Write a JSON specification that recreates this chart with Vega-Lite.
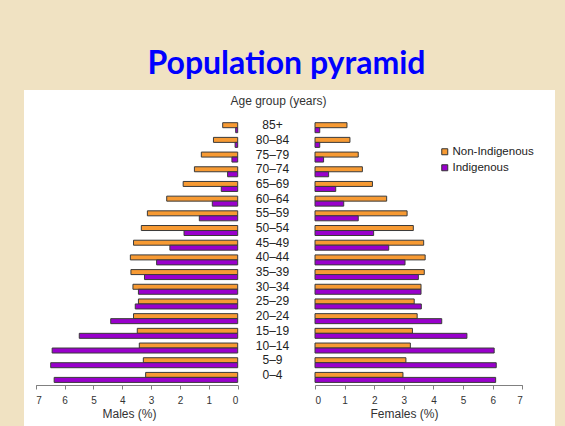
{
  "$schema": "https://vega.github.io/schema/vega-lite/v6.json",
  "autosize": {"type": "none"},
  "width": 531,
  "height": 336,
  "padding": {"left": 24, "top": 90, "right": 10, "bottom": 0},
  "background": "#F0E2C2",
  "config": {
    "view": {"fill": "white", "stroke": null},
    "font": "Liberation Sans"
  },
  "title": {
    "text": "Population pyramid",
    "font": "Lato",
    "fontSize": 32,
    "fontWeight": "bold",
    "color": "#0000FF",
    "anchor": "middle",
    "frame": "group",
    "baseline": "alphabetic",
    "offset": -16,
    "dx": -3
  },
  "data": {
    "values": [
      {"age": "85+", "sex": "Male", "group": "Non-Indigenous", "pct": 0.52},
      {"age": "80–84", "sex": "Male", "group": "Non-Indigenous", "pct": 0.84},
      {"age": "75–79", "sex": "Male", "group": "Non-Indigenous", "pct": 1.26},
      {"age": "70–74", "sex": "Male", "group": "Non-Indigenous", "pct": 1.50},
      {"age": "65–69", "sex": "Male", "group": "Non-Indigenous", "pct": 1.89},
      {"age": "60–64", "sex": "Male", "group": "Non-Indigenous", "pct": 2.46},
      {"age": "55–59", "sex": "Male", "group": "Non-Indigenous", "pct": 3.13},
      {"age": "50–54", "sex": "Male", "group": "Non-Indigenous", "pct": 3.34},
      {"age": "45–49", "sex": "Male", "group": "Non-Indigenous", "pct": 3.61},
      {"age": "40–44", "sex": "Male", "group": "Non-Indigenous", "pct": 3.72},
      {"age": "35–39", "sex": "Male", "group": "Non-Indigenous", "pct": 3.70},
      {"age": "30–34", "sex": "Male", "group": "Non-Indigenous", "pct": 3.63},
      {"age": "25–29", "sex": "Male", "group": "Non-Indigenous", "pct": 3.44},
      {"age": "20–24", "sex": "Male", "group": "Non-Indigenous", "pct": 3.61},
      {"age": "15–19", "sex": "Male", "group": "Non-Indigenous", "pct": 3.48},
      {"age": "10–14", "sex": "Male", "group": "Non-Indigenous", "pct": 3.41},
      {"age": "5–9", "sex": "Male", "group": "Non-Indigenous", "pct": 3.27},
      {"age": "0–4", "sex": "Male", "group": "Non-Indigenous", "pct": 3.19},
      {"age": "85+", "sex": "Male", "group": "Indigenous", "pct": 0.07},
      {"age": "80–84", "sex": "Male", "group": "Indigenous", "pct": 0.09},
      {"age": "75–79", "sex": "Male", "group": "Indigenous", "pct": 0.20},
      {"age": "70–74", "sex": "Male", "group": "Indigenous", "pct": 0.35},
      {"age": "65–69", "sex": "Male", "group": "Indigenous", "pct": 0.57},
      {"age": "60–64", "sex": "Male", "group": "Indigenous", "pct": 0.88},
      {"age": "55–59", "sex": "Male", "group": "Indigenous", "pct": 1.33},
      {"age": "50–54", "sex": "Male", "group": "Indigenous", "pct": 1.86},
      {"age": "45–49", "sex": "Male", "group": "Indigenous", "pct": 2.35},
      {"age": "40–44", "sex": "Male", "group": "Indigenous", "pct": 2.81},
      {"age": "35–39", "sex": "Male", "group": "Indigenous", "pct": 3.23},
      {"age": "30–34", "sex": "Male", "group": "Indigenous", "pct": 3.44},
      {"age": "25–29", "sex": "Male", "group": "Indigenous", "pct": 3.55},
      {"age": "20–24", "sex": "Male", "group": "Indigenous", "pct": 4.40},
      {"age": "15–19", "sex": "Male", "group": "Indigenous", "pct": 5.49},
      {"age": "10–14", "sex": "Male", "group": "Indigenous", "pct": 6.43},
      {"age": "5–9", "sex": "Male", "group": "Indigenous", "pct": 6.48},
      {"age": "0–4", "sex": "Male", "group": "Indigenous", "pct": 6.36},
      {"age": "85+", "sex": "Female", "group": "Non-Indigenous", "pct": 1.08},
      {"age": "80–84", "sex": "Female", "group": "Non-Indigenous", "pct": 1.18},
      {"age": "75–79", "sex": "Female", "group": "Non-Indigenous", "pct": 1.46},
      {"age": "70–74", "sex": "Female", "group": "Non-Indigenous", "pct": 1.60},
      {"age": "65–69", "sex": "Female", "group": "Non-Indigenous", "pct": 1.94},
      {"age": "60–64", "sex": "Female", "group": "Non-Indigenous", "pct": 2.42},
      {"age": "55–59", "sex": "Female", "group": "Non-Indigenous", "pct": 3.11},
      {"age": "50–54", "sex": "Female", "group": "Non-Indigenous", "pct": 3.32},
      {"age": "45–49", "sex": "Female", "group": "Non-Indigenous", "pct": 3.67},
      {"age": "40–44", "sex": "Female", "group": "Non-Indigenous", "pct": 3.72},
      {"age": "35–39", "sex": "Female", "group": "Non-Indigenous", "pct": 3.69},
      {"age": "30–34", "sex": "Female", "group": "Non-Indigenous", "pct": 3.58},
      {"age": "25–29", "sex": "Female", "group": "Non-Indigenous", "pct": 3.35},
      {"age": "20–24", "sex": "Female", "group": "Non-Indigenous", "pct": 3.45},
      {"age": "15–19", "sex": "Female", "group": "Non-Indigenous", "pct": 3.29},
      {"age": "10–14", "sex": "Female", "group": "Non-Indigenous", "pct": 3.22},
      {"age": "5–9", "sex": "Female", "group": "Non-Indigenous", "pct": 3.07},
      {"age": "0–4", "sex": "Female", "group": "Non-Indigenous", "pct": 2.97},
      {"age": "85+", "sex": "Female", "group": "Indigenous", "pct": 0.16},
      {"age": "80–84", "sex": "Female", "group": "Indigenous", "pct": 0.16},
      {"age": "75–79", "sex": "Female", "group": "Indigenous", "pct": 0.29},
      {"age": "70–74", "sex": "Female", "group": "Indigenous", "pct": 0.46},
      {"age": "65–69", "sex": "Female", "group": "Indigenous", "pct": 0.70},
      {"age": "60–64", "sex": "Female", "group": "Indigenous", "pct": 0.97},
      {"age": "55–59", "sex": "Female", "group": "Indigenous", "pct": 1.46},
      {"age": "50–54", "sex": "Female", "group": "Indigenous", "pct": 1.98},
      {"age": "45–49", "sex": "Female", "group": "Indigenous", "pct": 2.49},
      {"age": "40–44", "sex": "Female", "group": "Indigenous", "pct": 3.04},
      {"age": "35–39", "sex": "Female", "group": "Indigenous", "pct": 3.49},
      {"age": "30–34", "sex": "Female", "group": "Indigenous", "pct": 3.58},
      {"age": "25–29", "sex": "Female", "group": "Indigenous", "pct": 3.59},
      {"age": "20–24", "sex": "Female", "group": "Indigenous", "pct": 4.28},
      {"age": "15–19", "sex": "Female", "group": "Indigenous", "pct": 5.13},
      {"age": "10–14", "sex": "Female", "group": "Indigenous", "pct": 6.05},
      {"age": "5–9", "sex": "Female", "group": "Indigenous", "pct": 6.12},
      {"age": "0–4", "sex": "Female", "group": "Indigenous", "pct": 6.10}
    ]
  },
  "encoding": {
    "y": {
      "field": "age",
      "type": "nominal",
      "sort": ["85+", "80–84", "75–79", "70–74", "65–69", "60–64", "55–59", "50–54", "45–49", "40–44", "35–39", "30–34", "25–29", "20–24", "15–19", "10–14", "5–9", "0–4"],
      "scale": {"range": [32.7, 292.4], "paddingInner": 0.32, "paddingOuter": 0},
      "axis": {
        "orient": "left",
        "offset": -248,
        "domain": false,
        "ticks": false,
        "tickSize": 0,
        "labelPadding": 0,
        "labelAlign": "center",
        "labelBaseline": "middle",
        "labelOffset": -2.5,
        "labelFontSize": 12,
        "labelColor": "#222222",
        "labelFont": "Liberation Sans",
        "title": "Age group (years)",
        "titleAngle": 0,
        "titleX": 6,
        "titleY": 10,
        "titleAlign": "center",
        "titleBaseline": "middle",
        "titleFontSize": 12,
        "titleFontWeight": "normal",
        "titleColor": "#333333",
        "titleFont": "Liberation Sans"
      }
    },
    "yOffset": {
      "field": "group",
      "type": "nominal",
      "sort": ["Non-Indigenous", "Indigenous"],
      "scale": {"paddingInner": 0, "paddingOuter": 0}
    },
    "color": {
      "field": "group",
      "type": "nominal",
      "sort": ["Non-Indigenous", "Indigenous"],
      "scale": {"domain": ["Non-Indigenous", "Indigenous"], "range": ["#F79A33", "#9900CC"]},
      "legend": {
        "title": null,
        "orient": "none",
        "legendX": 415,
        "legendY": 56,
        "symbolType": "square",
        "symbolSize": 36,
        "symbolStrokeColor": "#333333",
        "symbolStrokeWidth": 1,
        "symbolOpacity": 1,
        "labelFontSize": 11.5,
        "labelFont": "Liberation Sans",
        "labelColor": "#222222",
        "labelOffset": 2,
        "rowPadding": 3,
        "padding": 0
      }
    }
  },
  "layer": [
    {
      "transform": [{"filter": "datum.sex === 'Male'"}],
      "mark": {"type": "bar", "stroke": "#3a3a3a", "strokeWidth": 1},
      "encoding": {
        "x": {
          "field": "pct",
          "type": "quantitative",
          "scale": {"domain": [0, 7], "range": [213.7, 11.7], "nice": false},
          "axis": {
            "orient": "bottom",
            "offset": -41,
            "values": [0, 1, 2, 3, 4, 5, 6, 7],
            "grid": false,
            "domainColor": "#808080",
            "tickColor": "#808080",
            "tickSize": 4,
            "labelPadding": 6,
            "labelFontSize": 10,
            "labelColor": "#333333",
            "labelFont": "Liberation Sans",
            "title": "Males (%)",
            "titleX": 105,
            "titleY": 28,
            "titleAlign": "center",
            "titleBaseline": "middle",
            "titleFontSize": 12,
            "titleFontWeight": "normal",
            "titleColor": "#333333",
            "titleFont": "Liberation Sans"
          }
        }
      }
    },
    {
      "transform": [{"filter": "datum.sex === 'Female'"}],
      "mark": {"type": "bar", "stroke": "#3a3a3a", "strokeWidth": 1},
      "encoding": {
        "x": {
          "field": "pct",
          "type": "quantitative",
          "scale": {"domain": [0, 7], "range": [291, 498.3], "nice": false},
          "axis": {
            "orient": "bottom",
            "offset": -41,
            "values": [0, 1, 2, 3, 4, 5, 6, 7],
            "grid": false,
            "domainColor": "#808080",
            "tickColor": "#808080",
            "tickSize": 4,
            "labelPadding": 6,
            "labelFontSize": 10,
            "labelColor": "#333333",
            "labelFont": "Liberation Sans",
            "title": "Females (%)",
            "titleX": 380,
            "titleY": 28,
            "titleAlign": "center",
            "titleBaseline": "middle",
            "titleFontSize": 12,
            "titleFontWeight": "normal",
            "titleColor": "#333333",
            "titleFont": "Liberation Sans"
          }
        }
      }
    }
  ],
  "resolve": {"scale": {"x": "independent"}, "axis": {"x": "independent"}}
}
